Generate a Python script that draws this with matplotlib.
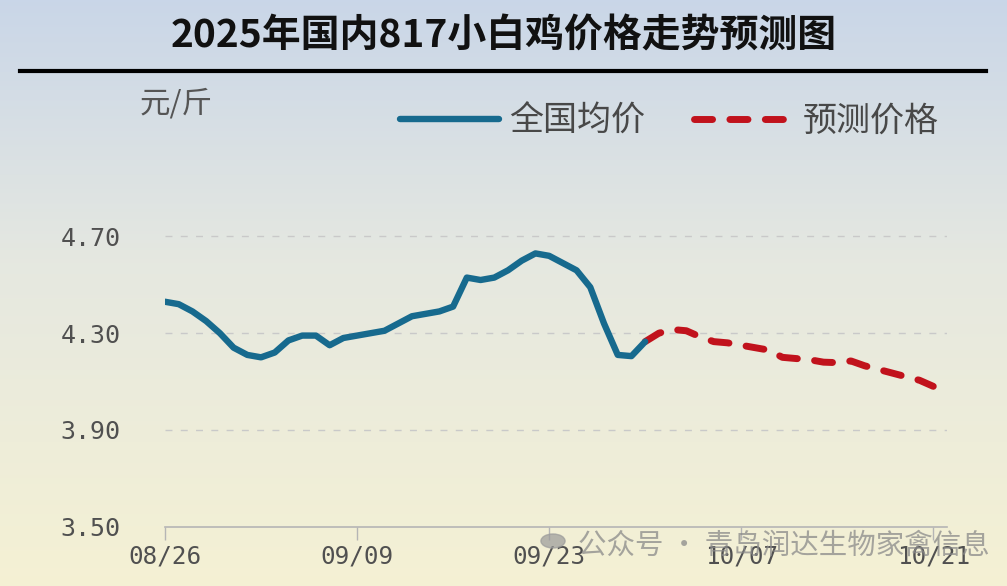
import numpy as np
import pandas as pd
import matplotlib
matplotlib.use("Agg")
import matplotlib.pyplot as plt
import matplotlib.dates as mdates
from matplotlib.lines import Line2D
from matplotlib.patches import Circle

plt.rcParams['font.family'] = ['Noto Sans CJK SC', 'DejaVu Sans']

# ---- data ----
title = "2025年国内817小白鸡价格走势预测图"
unit_label = "元/斤"
series_names = ["全国均价", "预测价格"]

actual_start = "2025-08-26"
actual_prices = [4.43, 4.42, 4.39, 4.35, 4.30, 4.24, 4.21, 4.20, 4.22, 4.27,
                 4.29, 4.29, 4.25, 4.28, 4.29, 4.30, 4.31, 4.34, 4.37, 4.38,
                 4.39, 4.41, 4.53, 4.52, 4.53, 4.56, 4.60, 4.63, 4.62, 4.59,
                 4.56, 4.49, 4.34, 4.21, 4.205, 4.265]

forecast_start = "2025-09-30"
forecast_prices = [4.265, 4.30, 4.315, 4.31, 4.285, 4.265, 4.26, 4.25, 4.24, 4.23,
                   4.20, 4.195, 4.19, 4.18, 4.178, 4.185, 4.165, 4.15, 4.135, 4.12,
                   4.105, 4.08]

x_ticks = ["2025-08-26", "2025-09-09", "2025-09-23", "2025-10-07", "2025-10-21"]
y_ticks = [3.50, 3.90, 4.30, 4.70]
watermark = "公众号 · 青岛润达生物家禽信息"

actual_dates = pd.date_range(actual_start, periods=len(actual_prices), freq="D")
forecast_dates = pd.date_range(forecast_start, periods=len(forecast_prices), freq="D")

# ---- figure ----
W, H = 1007, 586
fig = plt.figure(figsize=(W / 100, H / 100), dpi=100)

# background gradient
bg = fig.add_axes([0, 0, 1, 1], zorder=-10)
top = np.array([0.79, 0.84, 0.91])
mid = np.array([0.90, 0.91, 0.88])
bot = np.array([0.96, 0.945, 0.83])
t = np.linspace(0, 1, 300)[:, None]
grad = np.where(t < 0.45, top + (mid - top) * (t / 0.45), mid + (bot - mid) * ((t - 0.45) / 0.55))
bg.imshow(grad[:, None, :].repeat(2, axis=1), aspect='auto', extent=[0, 1, 0, 1])
bg.set_axis_off()

def fx(px):
    return px / W

def fy(py):
    return 1 - py / H

x0 = pd.Timestamp(actual_start)
xmax = x0 + pd.Timedelta(days=57)
ax_left, ax_right = fx(165), fx(947)
y_base, y_470 = 526.5, 236.5
ppu = (y_base - y_470) / 1.2
ytop_val = 4.92
ax_top_px = y_base - (ytop_val - 3.5) * ppu
ax = fig.add_axes([ax_left, fy(y_base), ax_right - ax_left, (y_base - ax_top_px) / H])
ax.patch.set_alpha(0)

blue = "#176a8e"
red = "#c1121c"
ax.plot(actual_dates, actual_prices, color=blue, lw=4.6, solid_capstyle='round',
        solid_joinstyle='round', zorder=4, label=series_names[0])
ax.plot(forecast_dates, forecast_prices, color=red, lw=5.0, ls=(0, (2.6, 2.5)),
        dash_capstyle='round', zorder=3, label=series_names[1])

ax.set_xlim(x0, xmax)
ax.set_ylim(3.50, ytop_val)
ax.set_yticks(y_ticks)
ax.set_yticklabels([f"{v:.2f}" for v in y_ticks])
ax.set_xticks(pd.to_datetime(x_ticks))
ax.xaxis.set_major_formatter(mdates.DateFormatter("%m/%d"))

for v in y_ticks[1:]:
    ax.axhline(v, color="#c9c9c9", lw=1.0, ls=(0, (5, 6)), zorder=1)

for s in ["top", "right", "left"]:
    ax.spines[s].set_visible(False)
ax.spines["bottom"].set_color("#b5b5b5")
ax.spines["bottom"].set_linewidth(1.2)
ax.tick_params(axis='y', length=0, pad=32, labelsize=18, labelcolor="#505050")
ax.tick_params(axis='x', length=9, width=1.0, color="#b5b5b5", pad=4,
               labelsize=17.5, labelcolor="#505050")
for lab in ax.get_xticklabels() + ax.get_yticklabels():
    lab.set_fontfamily("DejaVu Sans Mono")

# title and rule
fig.text(0.5, fy(36), title, ha='center', va='center', fontsize=28,
         fontweight='bold', color='#111111')
fig.add_artist(Line2D([fx(20), fx(986)], [fy(71), fy(71)], color='black', lw=3))

# unit label
fig.text(fx(140), fy(104), unit_label, ha='left', va='center', fontsize=22, color='#555555')

# legend
leg = ax.legend(loc='center left', bbox_to_anchor=(fx(400), fy(121)),
                bbox_transform=fig.transFigure, ncol=2, frameon=False,
                fontsize=24.5, handlelength=2.9, handletextpad=0.3,
                columnspacing=1.45, borderaxespad=0, borderpad=0)
for txt in leg.get_texts():
    txt.set_color('#484848')

# watermark
fig.add_artist(Circle((fx(553), fy(541)), 0.012, transform=fig.transFigure,
                      color='#9a9a9a', alpha=0.7, zorder=10))
fig.text(fx(578), fy(546), watermark, ha='left', va='center', fontsize=20.5,
         color='#8a8a8a', alpha=0.75, zorder=10)

fig.savefig("out.png", dpi=100)
